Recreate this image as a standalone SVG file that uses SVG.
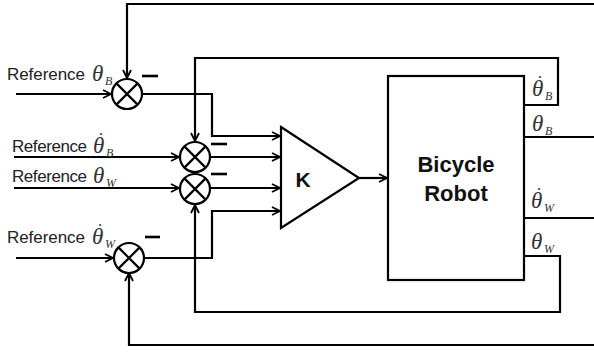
<svg xmlns="http://www.w3.org/2000/svg" width="594" height="353" viewBox="0 0 594 353">
<defs>
<marker id="arr" viewBox="0 0 10 10" refX="9" refY="5" markerWidth="10" markerHeight="10" markerUnits="userSpaceOnUse" orient="auto">
<path d="M1,1 L9,5 L1,9" fill="none" stroke="#000" stroke-width="1.8"/>
</marker>
<g id="sumsym">
<circle cx="0" cy="0" r="15" fill="#fff" stroke="#000" stroke-width="2.2"/>
<path d="M-10.6,-10.6 L10.6,10.6 M-10.6,10.6 L10.6,-10.6" stroke="#000" stroke-width="2.2"/>
</g>
</defs>
<style>
.w{fill:none;stroke:#000;stroke-width:2.2}
.a{marker-end:url(#arr)}
.ref{font-family:"Liberation Sans",Arial,sans-serif;font-size:17px;fill:#222}
.th{font-family:"Liberation Serif","Times New Roman",serif;font-style:italic;font-size:23px;fill:#333}
.dot{font-family:"Liberation Serif","Times New Roman",serif;font-size:18px;fill:#333}
.sub{font-family:"Liberation Serif","Times New Roman",serif;font-style:italic;font-size:12px;fill:#333}
.bold{font-family:"Liberation Sans",Arial,sans-serif;font-weight:bold;fill:#111}
.minus{stroke:#000;stroke-width:2.6}
</style>
<rect width="594" height="353" fill="#fff"/>
<g id="connectors">
<path class="w a" d="M16,94 H111"/>
<path class="w a" d="M14,157 H179"/>
<path class="w a" d="M14,188 H179"/>
<path class="w a" d="M16,258 H113"/>
<path class="w a" d="M142,94 H212 V136 H280"/>
<path class="w a" d="M210,157 H280"/>
<path class="w a" d="M210,188 H280"/>
<path class="w a" d="M144,258 H212 V211 H280"/>
<path class="w a" d="M359,178 H387"/>
<path class="w a" d="M594,4 H127 V78"/>
<path class="w a" d="M524,105 H558 V58 H195 V141"/>
<path class="w a" d="M524,256 H560 V312 H195 V205"/>
<path class="w a" d="M594,345 H129 V273"/>
<path class="w" d="M524,137 H594"/>
<path class="w" d="M524,218 H594"/>
</g>
<g id="sum1"><use href="#sumsym" x="127" y="94"/><line class="minus" x1="142" y1="76" x2="158" y2="76"/></g>
<g id="sum2"><use href="#sumsym" x="195" y="157"/><line class="minus" x1="211" y1="144" x2="227" y2="144"/></g>
<g id="sum3"><use href="#sumsym" x="195" y="189"/><line class="minus" x1="211" y1="174" x2="227" y2="174"/></g>
<g id="sum4"><use href="#sumsym" x="129" y="258"/><line class="minus" x1="145" y1="237" x2="160" y2="237"/></g>
<g id="gainK">
<polygon points="281,127 359,178 281,228" fill="#fff" stroke="#000" stroke-width="2.2"/>
<text class="bold" x="303" y="187" font-size="21" text-anchor="middle">K</text>
</g>
<g id="plant">
<rect x="388" y="76" width="136" height="204" fill="#fff" stroke="#000" stroke-width="2.2"/>
<text class="bold" x="456" y="172" font-size="22" text-anchor="middle">Bicycle</text>
<text class="bold" x="456" y="201" font-size="22" text-anchor="middle">Robot</text>
</g>
<g id="labels">
<text class="ref" x="7" y="80" textLength="78">Reference</text>
<text class="th" x="92" y="81">θ</text><text class="sub" x="105" y="85">B</text>
<text class="ref" x="12" y="152" textLength="75">Reference</text>
<text class="th" x="93" y="153">θ</text><text class="dot" x="98" y="146">˙</text><text class="sub" x="106" y="157">B</text>
<text class="ref" x="12" y="182" textLength="75">Reference</text>
<text class="th" x="93" y="183">θ</text><text class="sub" x="106" y="187">W</text>
<text class="ref" x="7" y="243" textLength="78">Reference</text>
<text class="th" x="92" y="244">θ</text><text class="dot" x="97" y="237">˙</text><text class="sub" x="105" y="248">W</text>
<text class="th" x="532" y="96">θ</text><text class="dot" x="537" y="89">˙</text><text class="sub" x="545" y="100">B</text>
<text class="th" x="532" y="131">θ</text><text class="sub" x="545" y="135">B</text>
<text class="th" x="531" y="208">θ</text><text class="dot" x="536" y="201">˙</text><text class="sub" x="544" y="212">W</text>
<text class="th" x="531" y="249">θ</text><text class="sub" x="544" y="253">W</text>
</g>
</svg>
